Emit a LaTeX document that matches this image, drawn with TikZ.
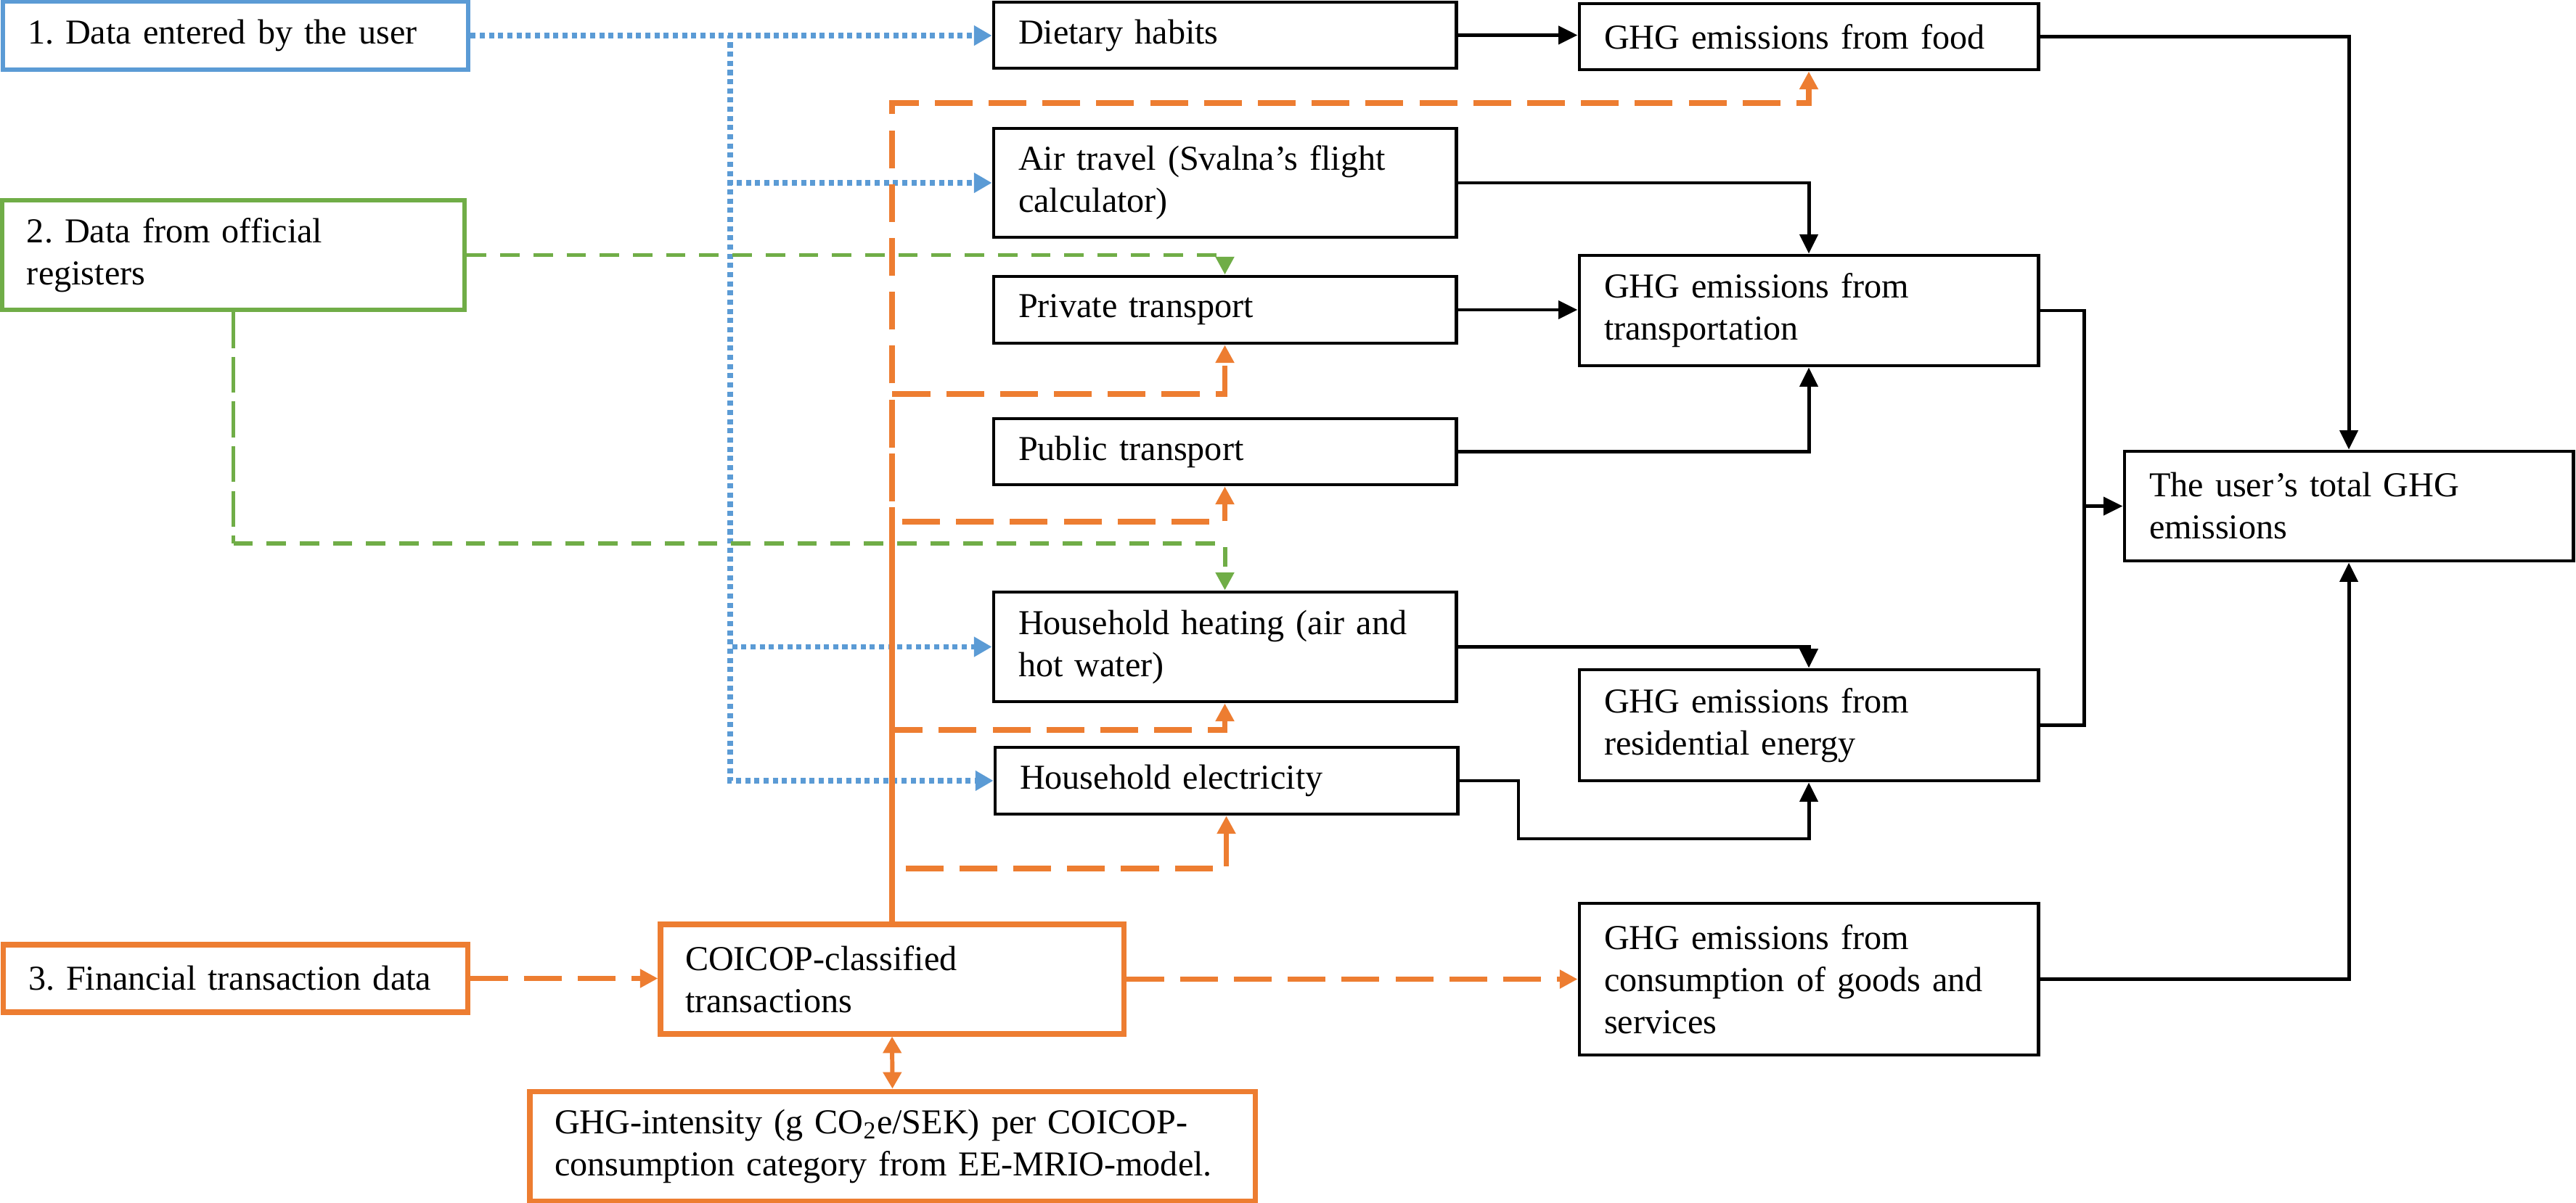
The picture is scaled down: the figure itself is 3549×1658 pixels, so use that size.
\documentclass[tikz,border=0pt]{standalone}
\usepackage{fontspec}
\setmainfont{Liberation Serif}
\usetikzlibrary{arrows.meta}
\frenchspacing

\definecolor{ublue}{HTML}{5B9BD5}
\definecolor{ugreen}{HTML}{70AD47}
\definecolor{uorange}{HTML}{ED7D31}

\newcommand{\mybox}[7]{%
  \pgfmathsetlengthmacro\bw{(#5-#3)*0.01cm}%
  \pgfmathsetlengthmacro\bh{(#6-#4)*0.01cm}%
  \pgfmathsetlengthmacro\tw{(#5-#3-68)*0.01cm}%
  \node[#2, minimum width=\bw, minimum height=\bh, text width=\tw] (#1) at ({(#3+#5)/2},{(#4+#6)/2}) {#7};}

\tikzset{
  basebox/.style={rectangle, inner xsep=0.34cm, inner ysep=2pt, align=left,
    font=\fontsize{13.7}{16.5}\selectfont, anchor=center},
  blkbox/.style={basebox, draw=black, line width=1.4pt},
  bluebox/.style={basebox, draw=ublue, line width=1.9pt},
  greenbox/.style={basebox, draw=ugreen, line width=1.9pt},
  orangebox/.style={basebox, draw=uorange, line width=2pt},
  blkline/.style={black, line width=1.4pt, -{Triangle[length=7.5pt,width=7pt]}},
  blkplain/.style={black, line width=1.4pt},
  blueline/.style={ublue, line width=2pt, dash pattern=on 2pt off 1.6pt, -{Triangle[length=7pt,width=7.5pt]}},
  greenline/.style={ugreen, line width=1.7pt, dash pattern=on 7.6pt off 5.4pt, -{Triangle[length=7pt,width=7pt]}},
  greenlong/.style={ugreen, line width=1.7pt, dash pattern=on 14pt off 3.5pt},
  orangeline/.style={uorange, line width=2.1pt, dash pattern=on 14.8pt off 6.3pt, -{Triangle[length=7pt,width=7pt]}},
  orangedbl/.style={uorange, line width=1.7pt, {Triangle[length=6.5pt,width=7pt]}-{Triangle[length=6.5pt,width=7pt]}}
}

\begin{document}
\begin{tikzpicture}[x=0.01cm, y=-0.01cm]
\useasboundingbox (0,0) rectangle (3549,1658);

% sources
\mybox{user}{bluebox}{4}{2}{645}{96}{1. Data entered by the user}
\mybox{official}{greenbox}{3}{276}{640}{427}{2. Data from official\\registers}
\mybox{fin}{orangebox}{5}{1302}{644}{1395}{3. Financial transaction data}

% middle column
\mybox{dietary}{blkbox}{1369}{3}{2006}{94}{Dietary habits}
\mybox{air}{blkbox}{1369}{177}{2006}{327}{Air travel (Svalna’s flight\\calculator)}
\mybox{private}{blkbox}{1369}{381}{2006}{473}{Private transport}
\mybox{public}{blkbox}{1369}{577}{2006}{668}{Public transport}
\mybox{heating}{blkbox}{1369}{816}{2006}{967}{Household heating (air and\\hot water)}
\mybox{elec}{blkbox}{1371}{1030}{2008}{1122}{Household electricity}

% emissions column
\mybox{food}{blkbox}{2176}{5}{2808}{96}{GHG emissions from food}
\mybox{transport}{blkbox}{2176}{352}{2808}{504}{GHG emissions from\\transportation}
\mybox{residential}{blkbox}{2176}{923}{2808}{1076}{GHG emissions from\\residential energy}
\mybox{consumption}{blkbox}{2176}{1245}{2808}{1454}{GHG emissions from\\consumption of goods and\\services}
\mybox{total}{blkbox}{2927}{622}{3545}{773}{The user’s total GHG\\emissions}

% financial chain
\mybox{coicop}{orangebox}{910}{1274}{1548}{1425}{COICOP-classified\\transactions}
\mybox{intensity}{orangebox}{730}{1504}{1729}{1655}{GHG-intensity (g CO\textsubscript{2}e/SEK) per COICOP-\\consumption category from EE-MRIO-model.}

% helper coordinates
\coordinate (bj) at (1006,49);
\coordinate (gc) at (321.5,749);
\coordinate (of) at (1229,142);
\coordinate (op) at (1229,543);
\coordinate (opu) at (1229,719);
\coordinate (oh) at (1229,1006);
\coordinate (oe) at (1229,1197);
\coordinate (eb) at (2092,1156);
\coordinate (rj) at (2871,697.5);

% blue (user entered)
\draw[blueline] (user.east) -- (user.east -| dietary.west);
\draw[blueline] (user.east) -- (bj) |- (air.west);
\draw[blueline] (user.east) -- (bj) |- (heating.west);
\draw[blueline] (user.east) -- (bj) |- (elec.west);

% green (official registers)
\draw[greenline] (official.east) -| (private.north);
\draw[greenlong] (official.south) -- (gc);
\draw[greenline] (gc) -| (heating.north);

% orange (transactions)
\draw[orangeline] (coicop.north) -- (of) -| (food.south);
\draw[orangeline, dash phase=4pt] (coicop.north) -- (op) -| (private.south);
\draw[orangeline, dash phase=8pt] (coicop.north) -- (opu) -| (public.south);
\draw[orangeline, dash phase=12pt] (coicop.north) -- (oh) -| (heating.south);
\draw[orangeline, dash phase=16pt] (coicop.north) -- (oe) -| (elec.south);
\draw[orangeline] (fin.east) -- (fin.east -| coicop.west);
\draw[orangeline] (coicop.east) -- (coicop.east -| consumption.west);
\draw[orangedbl] (coicop.south) -- (intensity.north);

% black
\draw[blkline] (dietary.east) -- (dietary.east -| food.west);
\draw[blkline] (air.east) -| (transport.north);
\draw[blkline] (private.east) -- (private.east -| transport.west);
\draw[blkline] (public.east) -| (transport.south);
\draw[blkline] (heating.east) -| (residential.north);
\draw[blkline] (elec.east) -| (eb) -| (residential.south);
\draw[blkline] (food.east) -| (total.north);
\draw[blkline] (transport.east) -| (rj) -- (total.west);
\draw[blkplain] (residential.east) -| (rj);
\draw[blkline] (consumption.east) -| (total.south);
\end{tikzpicture}
\end{document}
